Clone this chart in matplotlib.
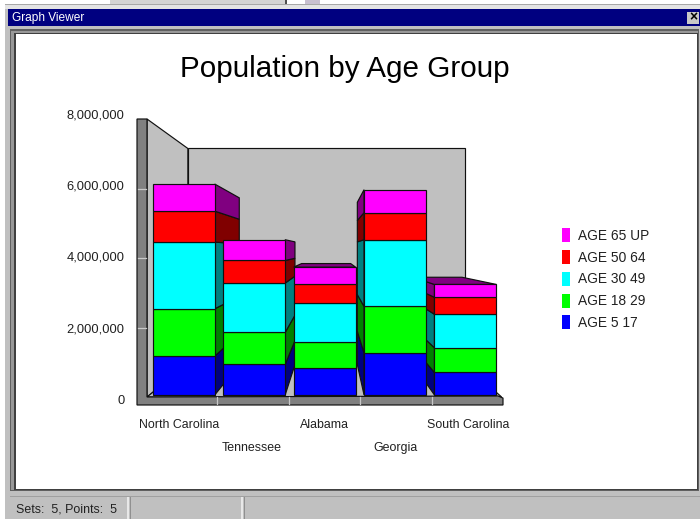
#!/usr/bin/env python3
"""Population by Age Group, stacked 3D-look bars inside a Graph Viewer window."""

import matplotlib
matplotlib.use("Agg")
import matplotlib.pyplot as plt
from matplotlib.patches import Patch, Rectangle, Polygon
from matplotlib.transforms import ScaledTranslation

states = ["North Carolina", "Tennessee", "Alabama", "Georgia", "South Carolina"]
age_groups = ["AGE 5 17", "AGE 18 29", "AGE 30 49", "AGE 50 64", "AGE 65 UP"]
age_5_17 = [1135000, 890000, 795000, 1230000, 655000]
age_18_29 = [1380000, 935000, 745000, 1355000, 720000]
age_30_49 = [1945000, 1440000, 1140000, 1945000, 980000]
age_50_64 = [905000, 660000, 555000, 790000, 495000]
age_65_up = [790000, 605000, 495000, 670000, 375000]
series = [age_5_17, age_18_29, age_30_49, age_50_64, age_65_up]
y_ticks = [0, 2000000, 4000000, 6000000, 8000000]

front_colors = ["#0000ff", "#00ff00", "#00ffff", "#ff0000", "#ff00ff"]
side_colors = ["#000080", "#008000", "#008080", "#800000", "#800080"]
EDGE = "#101010"
W, H = 700, 520


def px_axes(fig, left, top, right, bottom):
    return fig.add_axes([left / W, 1 - bottom / H, (right - left) / W, (bottom - top) / H])


plt.rcParams["font.family"] = ["Liberation Sans", "DejaVu Sans"]
fig = plt.figure(figsize=(7, 5.2), dpi=100, facecolor="white")

# window chrome, in pixels
win = fig.add_axes([0, 0, 1, 1])
win.set_xlim(0, W)
win.set_ylim(H, 0)
win.axis("off")


def rect(x0, y0, x1, y1, color):
    win.add_patch(Rectangle((x0, y0), x1 - x0, y1 - y0, fc=color, ec="none"))


# scraps of the desktop above the window
rect(110, 0, 285, 4, "#d4d4d4")
rect(285, 0, 287, 4, "#505050")
rect(305, 0, 320, 4, "#c8c0d0")
rect(5, 4, W, 9, "#e4e4e4")
rect(5, 4, W, 5, "#a8a8a8")
rect(5, 9, W, 519, "#c0c0c0")
rect(8, 9, W, 26, "#000080")
rect(10, 29, 699, 491, "#606060")
rect(11, 31, 698, 490, "#989898")
rect(14, 33, 698, 490, "#404040")
rect(16, 34, 697, 489, "white")
rect(10, 496, W, 497, "#a0a0a0")
rect(687, 12, 699, 24, "#c8c8c8")
win.text(693, 17.5, "×", color="black", fontsize=10, fontweight="bold", ha="center", va="center")
win.text(12, 18, "Graph Viewer", color="white", fontsize=8.6, va="center")
win.text(16, 509, "Sets:  5, Points:  5", color="#202020", fontsize=8.9, va="center")
for sx in [127, 241]:
    rect(sx, 497, sx + 2, 519, "#e8e8e8")
    rect(sx + 3, 497, sx + 4, 519, "#909090")
win.text(345, 69, "Population by Age Group", color="black", fontsize=21.3, ha="center", va="center")

# chart axes: front plane of the box
ax = px_axes(fig, 146, 119, 503, 397)
ax.set_xlim(0, 5)
ax.set_ylim(0, 8000000)
ax.patch.set_alpha(0)
ax.set_zorder(2)
for s in ax.spines.values():
    s.set_visible(False)
ax.tick_params(length=0, left=False, labelleft=False)
ax.set_yticks(y_ticks)
ax.set_xticks([i + 0.5 for i in range(5)])
ax.set_xticklabels(states, fontsize=8.9, color="#202020")
label_shift = [-3, -1, 0, 0, 1]
for i, tick in enumerate(ax.xaxis.get_major_ticks()):
    tick.set_pad(16 if i % 2 == 0 else 32.5)
    tick.label1.set_transform(tick.label1.get_transform()
                              + ScaledTranslation(label_shift[i] / 100, 0, fig.dpi_scale_trans))

# perspective helpers, in data units
VX, VY = 2.605, 4230000
BACK_X = 0.775
BAR_FRONT, BAR_BACK = 0.986, 0.78


def proj(x, y, depth):
    return VX + depth * (x - VX), VY + depth * (y - VY)


def face(points, color, z, lw=0.85):
    ax.add_patch(Polygon(points, closed=True, fc=color, ec=EDGE, lw=lw, zorder=z, clip_on=False))


back = [proj(0, 0, BACK_X), proj(5, 0, BACK_X), proj(5, 8000000, BACK_X), proj(0, 8000000, BACK_X)]
face(back, "#c0c0c0", 1)
face([(0.014, 0), proj(0, 0, BACK_X), proj(0, 8000000, BACK_X), (0.014, 8000000)], "#c0c0c0", 1)
face([(0.014, 0), (4.98, 0), proj(5, 0, BACK_X), proj(0, 0, BACK_X)], "#c0c0c0", 1)

# left and floor slabs as one L-shaped piece
SLAB_W = 0.126
SLAB_H = 230000
face([(-SLAB_W, 8000000), (0.014, 8000000), (0.014, 0), (4.93, 30000), (5.0, -30000),
      (5.0, -SLAB_H), (-SLAB_W, -SLAB_H)], "#808080", 2)
for v in y_ticks[1:-1]:
    ax.plot([-SLAB_W + 0.01, 0.0], [v, v], color="#c8c8c8", lw=0.9, zorder=3, clip_on=False)
for i in range(1, 5):
    ax.plot([i, i], [-SLAB_H + 15000, 0], color="#c8c8c8", lw=0.9, zorder=3, clip_on=False)

# stacked bars, painted outside to inside so that fronts hide neighbour sides
BAR_W = 0.88
order = [0, 4, 1, 3, 2]
for rank, i in enumerate(order):
    x0, x1 = i + 0.5 - BAR_W / 2, i + 0.5 + BAR_W / 2
    base = 0
    z = 10 + rank * 3
    for vals, fc, sc in zip(series, front_colors, side_colors):
        top = base + vals[i]
        if x1 < VX:
            side_x = x1
        elif x0 > VX:
            side_x = x0
        else:
            side_x = None
        if side_x is not None:
            face([proj(side_x, base, BAR_FRONT), proj(side_x, top, BAR_FRONT),
                  proj(side_x, top, BAR_BACK), proj(side_x, base, BAR_BACK)], sc, z)
        base = top
    if base < VY:
        # lid is seen from above when the bar is below eye level
        face([proj(x0, base, BAR_FRONT), proj(x1, base, BAR_FRONT),
              proj(x1, base, BAR_BACK), proj(x0, base, BAR_BACK)], "#800080", z)
    base = 0
    for vals, fc in zip(series, front_colors):
        top = base + vals[i]
        face([proj(x0, base, BAR_FRONT), proj(x1, base, BAR_FRONT),
              proj(x1, top, BAR_FRONT), proj(x0, top, BAR_FRONT)], fc, z + 1)
        base = top

# value labels sit on their own slightly wider scale
lab = px_axes(fig, 130, 114, 503, 399)
lab.set_xlim(0, 5)
lab.set_ylim(0, 8000000)
lab.patch.set_alpha(0)
for s in lab.spines.values():
    s.set_visible(False)
lab.set_xticks([])
lab.set_yticks(y_ticks)
lab.set_yticklabels([f"{v:,}" for v in y_ticks], fontsize=9.3, color="#202020")
lab.tick_params(length=0, pad=4)

handles = [Patch(fc=c, ec="none") for c in front_colors[::-1]]
fig.legend(handles, age_groups[::-1], loc="upper left",
           bbox_to_anchor=(562 / W, 1 - 228 / H), frameon=False, fontsize=9.9,
           borderpad=0, borderaxespad=0,
           handlelength=0.58, handleheight=1.2, handletextpad=0.58, labelspacing=0.52,
           labelcolor="#202020")

fig.savefig("out.png", dpi=100)
